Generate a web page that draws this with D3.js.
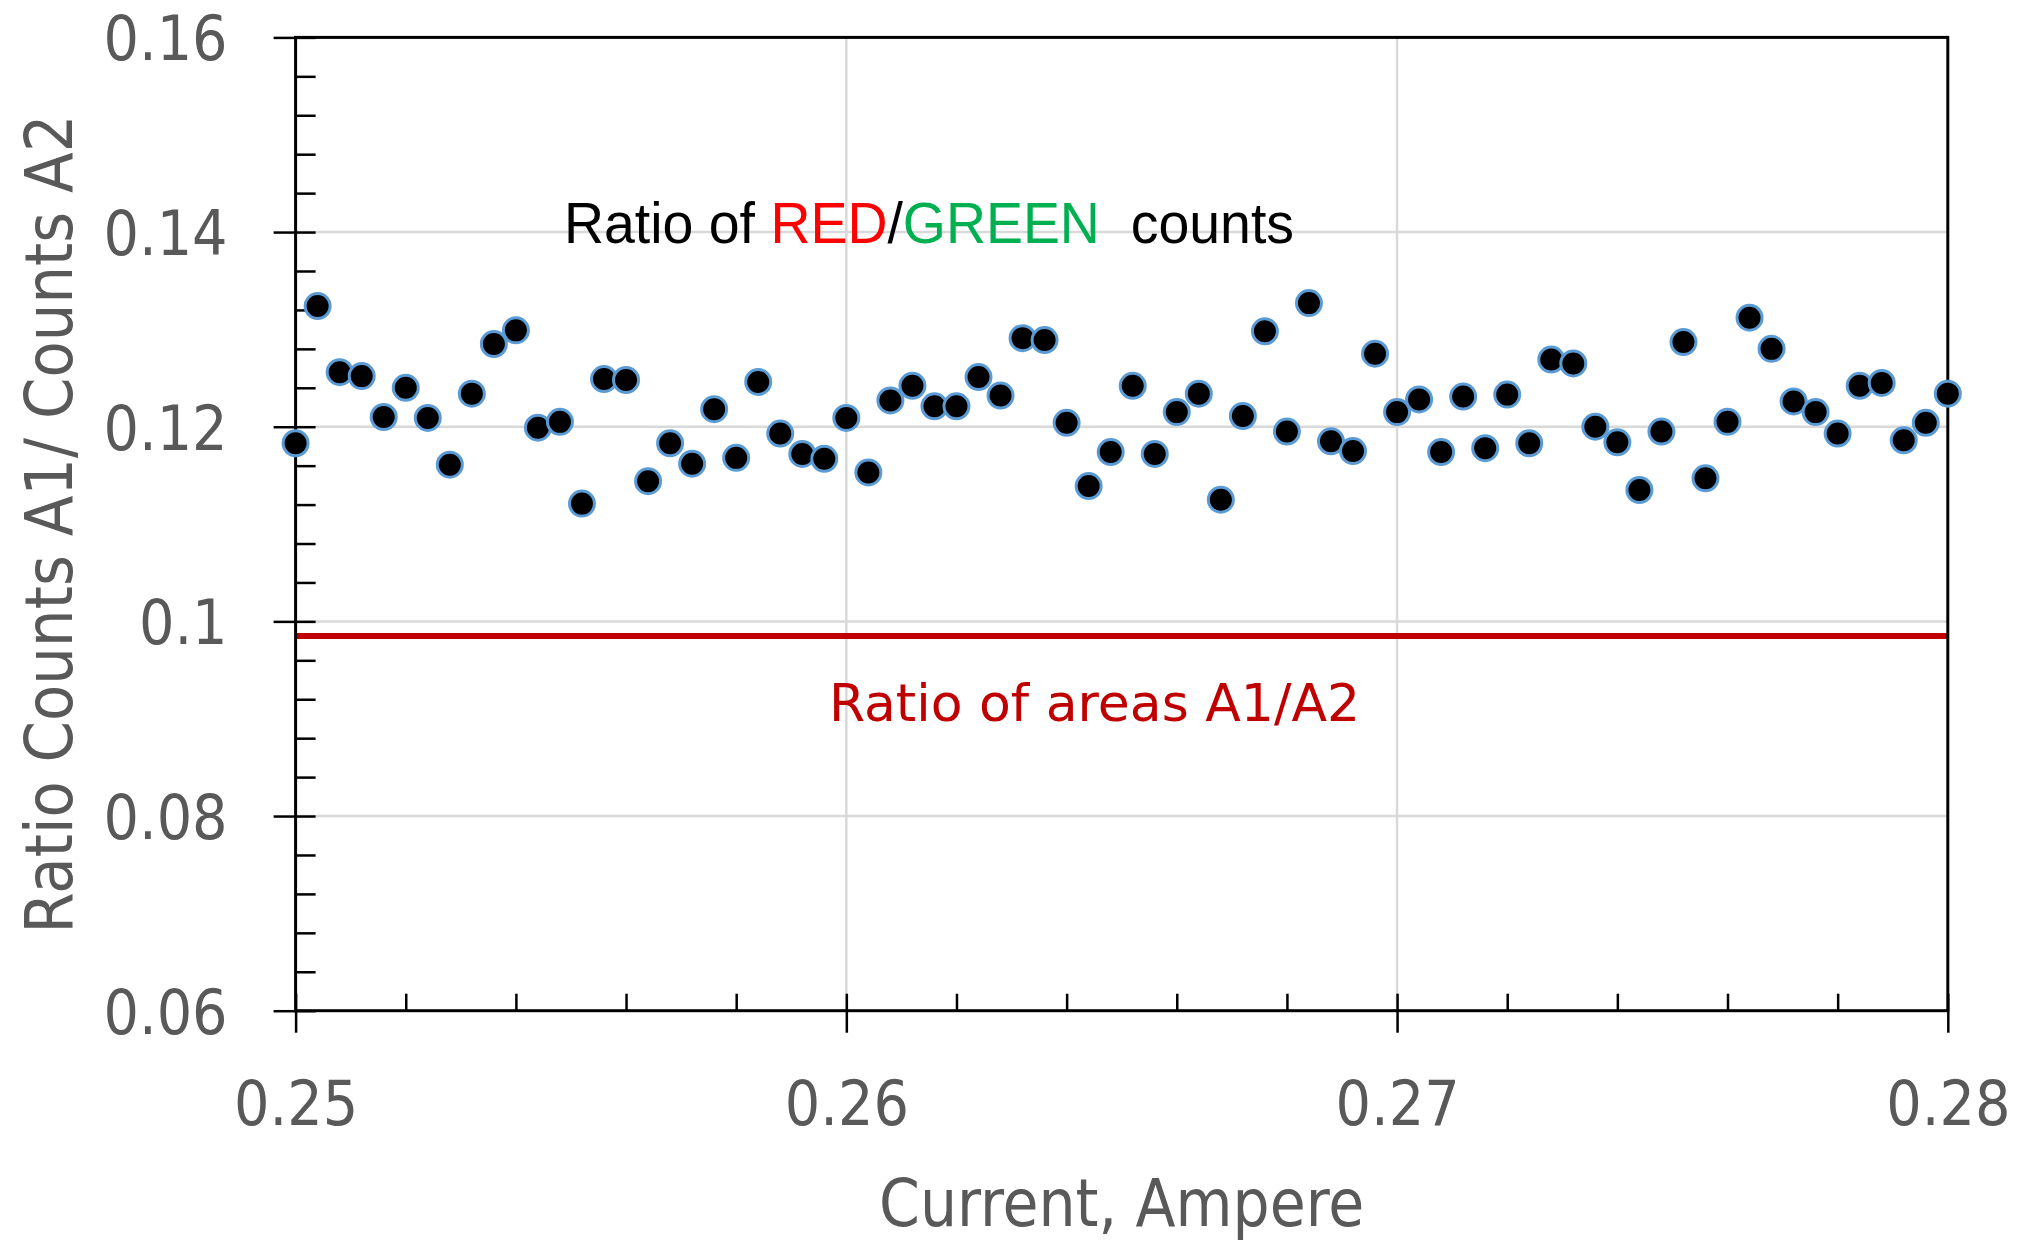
<!DOCTYPE html>
<html>
<head>
<meta charset="utf-8">
<script src="https://cdn.jsdelivr.net/npm/d3@7"></script>
<style>
  html, body { margin: 0; padding: 0; background: #fff; }
  svg { display: block; }
</style>
</head>
<body>
<div id="chart"></div>
<script>
// current steps, Ampere
const currents = [
  0.2500, 0.2504, 0.2508, 0.2512, 0.2516, 0.2520, 0.2524, 0.2528, 0.2532, 0.2536,
  0.2540, 0.2544, 0.2548, 0.2552, 0.2556, 0.2560, 0.2564, 0.2568, 0.2572, 0.2576,
  0.2580, 0.2584, 0.2588, 0.2592, 0.2596, 0.2600, 0.2604, 0.2608, 0.2612, 0.2616,
  0.2620, 0.2624, 0.2628, 0.2632, 0.2636, 0.2640, 0.2644, 0.2648, 0.2652, 0.2656,
  0.2660, 0.2664, 0.2668, 0.2672, 0.2676, 0.2680, 0.2684, 0.2688, 0.2692, 0.2696,
  0.2700, 0.2704, 0.2708, 0.2712, 0.2716, 0.2720, 0.2724, 0.2728, 0.2732, 0.2736,
  0.2740, 0.2744, 0.2748, 0.2752, 0.2756, 0.2760, 0.2764, 0.2768, 0.2772, 0.2776,
  0.2780, 0.2784, 0.2788, 0.2792, 0.2796, 0.2800,
];

// ratio of RED / GREEN counts
const ratios = [
  0.1183, 0.1324, 0.1256, 0.1252, 0.1210, 0.1240, 0.1209, 0.1161, 0.1234, 0.1285,
  0.1299, 0.1199, 0.1205, 0.1121, 0.1249, 0.1248, 0.1144, 0.1183, 0.1162, 0.1218,
  0.1168, 0.1246, 0.1193, 0.1172, 0.1167, 0.1209, 0.1153, 0.1227, 0.1242, 0.1221,
  0.1221, 0.1251, 0.1232, 0.1291, 0.1289, 0.1204, 0.1139, 0.1174, 0.1242, 0.1172,
  0.1215, 0.1234, 0.1125, 0.1211, 0.1298, 0.1195, 0.1327, 0.1185, 0.1175, 0.1275,
  0.1215, 0.1228, 0.1174, 0.1231, 0.1178, 0.1233, 0.1183, 0.1269, 0.1265, 0.1200,
  0.1184, 0.1135, 0.1195, 0.1287, 0.1147, 0.1205, 0.1312, 0.1280, 0.1226, 0.1215,
  0.1193, 0.1242, 0.1245, 0.1186, 0.1204, 0.1234,
];

// ratio of areas A1/A2 (constant)
const areaRatio = [0.0985];

const xTicks = [0.25, 0.26, 0.27, 0.28];
const xTickLabels = ['0.25', '0.26', '0.27', '0.28'];
const yTicks = [0.06, 0.08, 0.1, 0.12, 0.14, 0.16];
const yTickLabels = ['0.06', '0.08', '0.1', '0.12', '0.14', '0.16'];

const canvasWidth = 2024;
const canvasHeight = 1240;
const margins = {
  top: 37.4,
  right: 76.2,
  bottom: 229.3,
  left: 295.6,
};
const width = canvasWidth - margins.left - margins.right;
const height = canvasHeight - margins.top - margins.bottom;
const axisFont = '"DejaVu Sans Condensed", "DejaVu Sans", sans-serif';
const grey = '#595959';

const x = d3.scaleLinear().domain([0.25, 0.28]).range([0, width]);
const y = d3.scaleLinear().domain([0.06, 0.16]).range([height, 0]);

const xMinor = d3.range(0.25, 0.28001, 0.002);
const yMinor = d3.range(0.06, 0.16001, 0.004);

const svg = d3.select('#chart').append('svg')
  .attr('width', canvasWidth)
  .attr('height', canvasHeight);

const plot = svg.append('g')
  .attr('transform', `translate(${margins.left},${margins.top})`);

// gridlines
plot.append('g')
  .selectAll('line')
  .data(yTicks.slice(1, -1))
  .enter()
  .append('line')
    .attr('x1', 0)
    .attr('x2', width)
    .attr('y1', d => y(d))
    .attr('y2', d => y(d))
    .attr('stroke', '#d9d9d9')
    .attr('stroke-width', 2.5);

plot.append('g')
  .selectAll('line')
  .data(xTicks.slice(1, -1))
  .enter()
  .append('line')
    .attr('x1', d => x(d))
    .attr('x2', d => x(d))
    .attr('y1', 0)
    .attr('y2', height)
    .attr('stroke', '#d9d9d9')
    .attr('stroke-width', 2.5);

// area ratio line
plot.append('g')
  .selectAll('line')
  .data(areaRatio)
  .enter()
  .append('line')
    .attr('x1', x(0.25))
    .attr('x2', x(0.28))
    .attr('y1', d => y(d))
    .attr('y2', d => y(d))
    .attr('stroke', '#c00000')
    .attr('stroke-width', 6);

// frame
plot.append('rect')
  .attr('width', width)
  .attr('height', height)
  .attr('fill', 'none')
  .attr('stroke', '#000')
  .attr('stroke-width', 3);

const styleAxis = (g) => {
  g.select('.domain').remove();
  g.selectAll('.tick line')
    .attr('stroke', '#000')
    .attr('stroke-width', 2.5);
  g.selectAll('text')
    .attr('fill', grey)
    .style('font-family', axisFont)
    .style('font-stretch', 'condensed')
    .style('font-size', '62px');
};

// y axis: major ticks cross, minor inside
plot.append('g')
  .call(d3.axisLeft(y)
    .tickValues(yTicks)
    .tickFormat((d, i) => yTickLabels[i])
    .tickSize(22)
    .tickPadding(46))
  .call(styleAxis)
  .selectAll('text')
    .attr('dy', '0.36em');

plot.append('g')
  .call(d3.axisRight(y).tickValues(yMinor).tickSize(20).tickFormat(''))
  .call(styleAxis);

// x axis
plot.append('g')
  .attr('transform', `translate(0,${height})`)
  .call(d3.axisBottom(x)
    .tickValues(xTicks)
    .tickFormat((d, i) => xTickLabels[i])
    .tickSize(22)
    .tickPadding(48))
  .call(styleAxis);

plot.append('g')
  .attr('transform', `translate(0,${height})`)
  .call(d3.axisTop(x).tickValues(xMinor).tickSize(17).tickFormat(''))
  .call(styleAxis);

// axis titles
svg.append('text')
  .attr('transform', `translate(72,${margins.top + height / 2}) rotate(-90)`)
  .attr('text-anchor', 'middle')
  .attr('fill', grey)
  .style('font-family', axisFont)
  .style('font-stretch', 'condensed')
  .style('font-size', '66px')
  .text('Ratio Counts A1/ Counts A2');

svg.append('text')
  .attr('x', margins.left + width / 2)
  .attr('y', 1226)
  .attr('text-anchor', 'middle')
  .attr('fill', grey)
  .style('font-family', axisFont)
  .style('font-stretch', 'condensed')
  .style('font-size', '65px')
  .text('Current, Ampere');

// annotations
const title = svg.append('text')
  .attr('x', 564)
  .attr('y', 243)
  .attr('textLength', 730)
  .attr('lengthAdjust', 'spacingAndGlyphs')
  .style('font-family', '"Liberation Sans Narrow", "Liberation Sans", sans-serif')
  .style('font-size', '57px')
  .style('white-space', 'pre');

const titleParts = [
  { text: 'Ratio of ', color: '#000' },
  { text: 'RED', color: '#ff0000' },
  { text: '/', color: '#000' },
  { text: 'GREEN', color: '#00b050' },
  { text: '  counts', color: '#000' },
];
title.selectAll('tspan')
  .data(titleParts)
  .enter()
  .append('tspan')
    .attr('fill', d => d.color)
    .text(d => d.text);

svg.append('text')
  .attr('x', 829)
  .attr('y', 721)
  .attr('fill', '#c00000')
  .style('font-family', '"DejaVu Sans", sans-serif')
  .style('font-size', '52px')
  .text('Ratio of areas A1/A2');

// data points
plot.append('g')
  .selectAll('circle')
  .data(ratios)
  .enter()
  .append('circle')
    .attr('cx', (d, i) => x(currents[i]))
    .attr('cy', d => y(d))
    .attr('r', 12.5)
    .attr('fill', '#000')
    .attr('stroke', '#5b9bd5')
    .attr('stroke-width', 3);
</script>
</body>
</html>
